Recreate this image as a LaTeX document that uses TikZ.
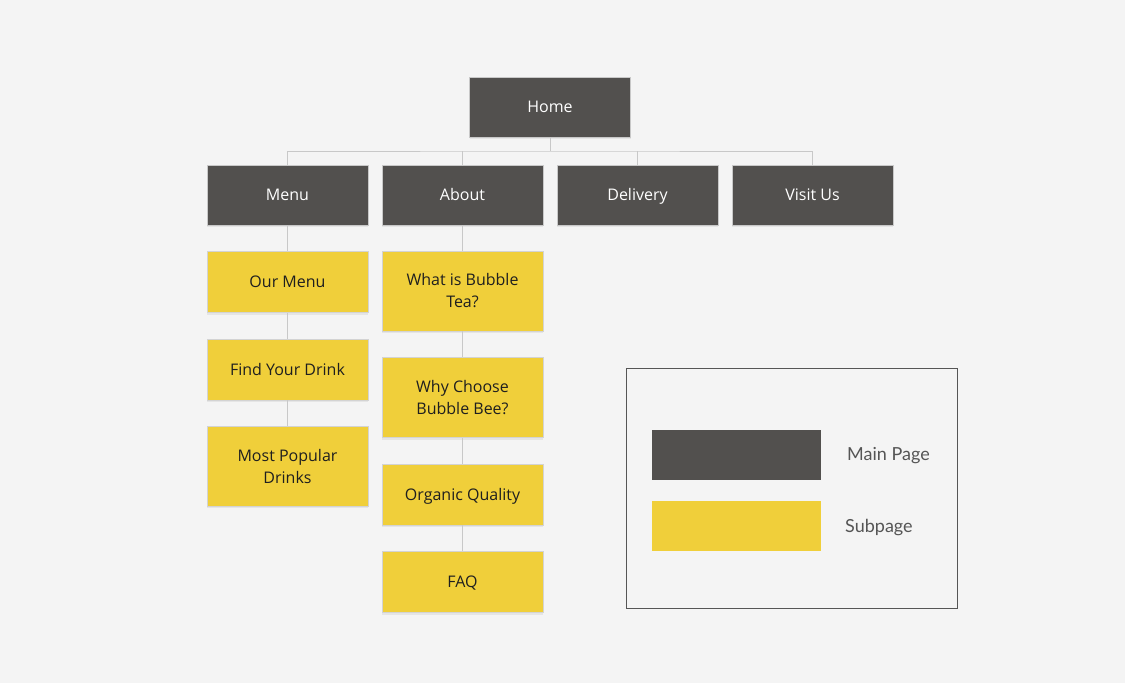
\documentclass[tikz,border=0pt]{standalone}
\usepackage{fontspec}
\setmainfont{Open Sans}
\newfontfamily\legendfont{Lato}
\usetikzlibrary{shadows}
\definecolor{pagebg}{HTML}{F4F4F4}
\definecolor{maingrey}{HTML}{52504E}
\definecolor{subyellow}{HTML}{F0CF3A}
\definecolor{linegrey}{HTML}{C8C8C8}
\definecolor{legendgrey}{HTML}{555555}
\tikzset{
every node/.style={rectangle, inner sep=2pt, font=\fontsize{16}{22}\selectfont, align=center},
mainpage/.style={fill=maingrey, draw=linegrey, text=white, minimum width=161pt, minimum height=60pt,
  text height=11.5pt, text depth=0pt,
  drop shadow={opacity=0.12, shadow xshift=0pt, shadow yshift=-2pt}},
subpage/.style={fill=subyellow, draw=linegrey!80, text=black!88, minimum width=161pt, minimum height=61pt,
  text height=11.5pt, text depth=0pt,
  drop shadow={opacity=0.12, shadow xshift=0pt, shadow yshift=-2pt}},
tallpage/.style={subpage, minimum height=80pt, text height={}, text depth={}},
link/.style={draw=linegrey, line width=0.8pt}
}
\begin{document}
\begin{tikzpicture}[x=1pt, y=-1pt]
\fill [pagebg] (0,0) rectangle (1125,683);
\useasboundingbox (0,0) rectangle (1125,683);

\node [mainpage] (Home) at (550,107) {Home};
\node [mainpage] (Menu) at (287.5,195) {Menu};
\node [mainpage] (About) at (462.5,195) {About};
\node [mainpage] (Delivery) at (637.5,195) {Delivery};
\node [mainpage] (Visit) at (812.5,195) {Visit Us};

\node [subpage] (OurMenu) at (287.5,282) {Our Menu};
\node [subpage] (FindDrink) at (287.5,369.5) {Find Your Drink};
\node [tallpage] (Popular) at (287.5,466) {Most Popular\\Drinks};

\node [tallpage] (WhatIs) at (462.5,291) {What is Bubble\\Tea?};
\node [tallpage] (WhyChoose) at (462.5,397.5) {Why Choose\\Bubble Bee?};
\node [subpage] (Organic) at (462.5,494.5) {Organic Quality};
\node [subpage] (FAQ) at (462.5,582) {FAQ};

\coordinate (bus) at (550,151);
\draw [link] (Home.south) -- (bus);
\draw [link] (Menu.north) |- (bus) -| (Visit.north);
\draw [link] (About.north) -- (About.north |- bus);
\draw [link] (Delivery.north) -- (Delivery.north |- bus);

\draw [link] (Menu.south) -- (OurMenu.north);
\draw [link] (OurMenu.south) -- (FindDrink.north);
\draw [link] (FindDrink.south) -- (Popular.north);
\draw [link] (About.south) -- (WhatIs.north);
\draw [link] (WhatIs.south) -- (WhyChoose.north);
\draw [link] (WhyChoose.south) -- (Organic.north);
\draw [link] (Organic.south) -- (FAQ.north);

% legend
\node [draw=legendgrey, line width=0.8pt, minimum width=331pt, minimum height=240pt] (Legend) at (791.5,488) {};
\node [fill=maingrey, minimum width=169pt, minimum height=50pt] (KeyMain) at (736.5,455) {};
\node [fill=subyellow, minimum width=169pt, minimum height=50pt] (KeySub) at (736.5,526) {};
\node [anchor=west, text=legendgrey, font=\legendfont\fontsize{18}{22}\selectfont] (MainLabel) at (845,456) {Main Page};
\node [anchor=west, text=legendgrey, font=\legendfont\fontsize{18}{22}\selectfont] (SubLabel) at (843,528) {Subpage};
\end{tikzpicture}
\end{document}
